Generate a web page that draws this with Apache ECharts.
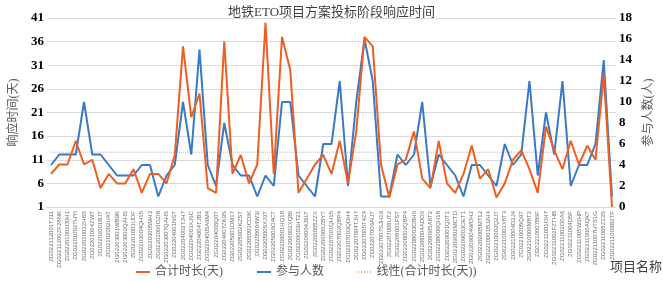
<!DOCTYPE html>
<html>
<head>
<meta charset="utf-8">
<script src="https://cdn.jsdelivr.net/npm/echarts@6/dist/echarts.min.js"></script>
<style>
  html, body { margin: 0; padding: 0; background: #fff; }
  #chart_view { width: 663px; height: 281px; }
</style>
</head>
<body>
<div id="chart_view"></div>
<script>
  // project codes (x axis)
  const projects = [
    'ZG022112001TJ11', 'ZG02211200ZF28NK', 'ZG02201001D0H1', 'ZG02201002THYI', 'ZG02201003ZH8S',
    'ZG02201004ZWT', 'ZG02202001BJT', 'ZG02202002UAT', 'ZG02203001WB9K', 'ZG02203002QAHS',
    'ZG02203003UDF', 'ZG02203004QH15', 'ZG02203005MH3', 'ZG02203006OZI8', 'ZG02203007QAHS',
    'ZG02204001NST', 'ZG02204002TJH7', 'ZG02204003XJ6C', 'ZG02204004TJB1', 'ZG02204005A9M4',
    'ZG02204006Q0T', 'ZG02204007ZK9S', 'ZG02205001DM17', 'ZG02205002KZST', 'ZG02205003CDIK',
    'ZG02205004W3I', 'ZG02205005XJ3T', 'ZG02205006O4CT', 'ZG02206001HQ18', 'ZG02206002XQBI',
    'ZG02206003HT21', 'ZG02206004J9LT', 'ZG02206005ZZX', 'ZG02206006ZBYT', 'ZG02207001QH15',
    'ZG02207002QBP4', 'ZG02207003QDH4', 'ZG02207004TJH7', 'ZG02207005T4Z4', 'ZG02207006AUT',
    'ZG02207007SJH19', 'ZG02207008UT2', 'ZG02208001FST', 'ZG02208002QBP4', 'ZG02208003O8H6',
    'ZG02208004ADO6', 'ZG02208005A8T2', 'ZG02208006QH18', 'ZG02209001Q0T1', 'ZG02209002MCTD',
    'ZG02209003OET1', 'ZG02209004WOH2', 'ZG02209005MT12', 'ZG02210001BJ2H4', 'ZG02210002Q2JT',
    'ZG02210003X8T3', 'ZG02210004D2J4', 'ZG02210005Q9T', 'ZG02210006M8T2', 'ZG02210007B6F',
    'ZG02211001OH7', 'ZG02211002FZTHB', 'ZG02211003O0A6', 'ZG02211004D5F', 'ZG02211005W3HP',
    'ZG02211006AQKT', 'ZG02211007HTS1G', 'ZG02211008Z13S', 'ZG02211009B2TF'
  ];

  // 合计时长(天), left axis
  const totalDays = [
    8, 10, 10, 15, 10, 11, 5, 8, 6, 6,
    9, 4, 8, 8, 6, 12, 35, 20, 25, 5,
    4, 36, 8, 12, 6, 10, 40, 8, 37, 30,
    4, 7, 10, 12, 8, 15, 6, 17, 37, 35,
    10, 3, 10, 11, 17, 7, 5, 15, 6, 4,
    8, 14, 7, 9, 3, 6, 11, 13, 9, 4,
    18, 13, 9, 15, 10, 14, 11, 29, 1
  ];

  // 参与人数, right axis
  const people = [
    4, 5, 5, 5, 10, 5, 5, 4, 3, 3,
    3, 4, 4, 1, 3, 4, 10, 5, 15, 4,
    2, 8, 4, 3, 3, 1, 3, 2, 10, 10,
    3, 2, 1, 6, 6, 12, 2, 10, 16, 12,
    1, 1, 5, 4, 5, 10, 2, 5, 4, 3,
    1, 4, 4, 3, 2, 6, 4, 5, 12, 3,
    9, 5, 12, 2, 4, 4, 6, 14, 1
  ];

  // linear trend of 合计时长 (start, end)
  const trendEnds = [12.6, 12.6];

  const leftTicks = { min: 1, max: 41, step: 5 };
  const rightTicks = { min: 0, max: 18, step: 2 };

  const orange = '#EC5F22';
  const blue = '#3B78C6';
  const trendColor = '#F4A582';
  const serif = '"Liberation Serif", "Noto Sans CJK SC", serif';

  // legend icons: plain line and dotted line
  const lineIcon = 'path://M0,0h14v2h-14z';
  const dottedIcon = 'path://M0,0h1v2h-1zM3,0h1v2h-1zM6,0h1v2h-1zM9,0h1v2h-1zM12,0h1v2h-1z';

  let chart = echarts.init(document.getElementById('chart_view'));

  let last = projects.length - 1;
  let trendData = projects.map((p, i) => i === 0 ? trendEnds[0] : (i === last ? trendEnds[1] : null));

  chart.setOption({
    animation: false,
    title: {
      text: '地铁ETO项目方案投标阶段响应时间',
      left: 'center',
      top: 1,
      textStyle: { fontFamily: serif, fontSize: 13, fontWeight: 'normal', color: '#404040' }
    },
    grid: { left: 32, right: 29, top: 18, bottom: 74 },
    legend: {
      left: 131,
      top: 261,
      itemWidth: 14,
      itemHeight: 2,
      itemGap: 34,
      textStyle: { fontFamily: serif, fontSize: 12, color: '#595959' },
      data: [
        { name: '合计时长(天)', icon: lineIcon },
        { name: '参与人数', icon: lineIcon },
        { name: '线性(合计时长(天))', icon: dottedIcon }
      ]
    },
    graphic: [{
      type: 'text',
      left: 610,
      top: 261,
      style: { text: '项目名称', font: '13px ' + serif, fill: '#404040' }
    }],
    xAxis: {
      type: 'category',
      data: projects,
      boundaryGap: true,
      axisLine: { lineStyle: { color: '#D9D9D9' } },
      axisTick: { show: false },
      axisLabel: {
        interval: 0,
        rotate: 90,
        fontSize: 6,
        margin: 4,
        color: '#6a6a6a',
        fontFamily: 'Arial, "Liberation Sans", sans-serif'
      }
    },
    yAxis: [
      {
        type: 'value',
        min: leftTicks.min,
        max: leftTicks.max,
        interval: leftTicks.step,
        name: '响应时间(天)',
        nameLocation: 'middle',
        nameGap: 21,
        nameTextStyle: { fontFamily: serif, fontSize: 12, color: '#595959' },
        axisLine: { show: false },
        axisTick: { show: false },
        axisLabel: { fontFamily: serif, fontSize: 13, fontWeight: 'bold', color: '#000', margin: 3 },
        splitLine: { lineStyle: { color: '#D9D9D9', width: 1 } }
      },
      {
        type: 'value',
        min: rightTicks.min,
        max: rightTicks.max,
        interval: rightTicks.step,
        name: '参与人数(人)',
        nameLocation: 'middle',
        nameGap: 24,
        nameTextStyle: { fontFamily: serif, fontSize: 12, color: '#595959' },
        axisLine: { show: false },
        axisTick: { show: false },
        axisLabel: { fontFamily: serif, fontSize: 13, fontWeight: 'bold', color: '#000', margin: 3 },
        splitLine: { show: false }
      }
    ],
    series: [
      {
        name: '合计时长(天)',
        type: 'line',
        yAxisIndex: 0,
        data: totalDays,
        symbol: 'none',
        lineStyle: { color: orange, width: 2 },
        itemStyle: { color: orange },
        z: 3
      },
      {
        name: '参与人数',
        type: 'line',
        yAxisIndex: 1,
        data: people,
        symbol: 'none',
        lineStyle: { color: blue, width: 2 },
        itemStyle: { color: blue },
        z: 2
      },
      {
        name: '线性(合计时长(天))',
        type: 'line',
        yAxisIndex: 0,
        data: trendData,
        connectNulls: true,
        symbol: 'none',
        lineStyle: { color: trendColor, width: 1, type: 'dotted' },
        itemStyle: { color: trendColor },
        z: 1
      }
    ]
  });
</script>
</body>
</html>
